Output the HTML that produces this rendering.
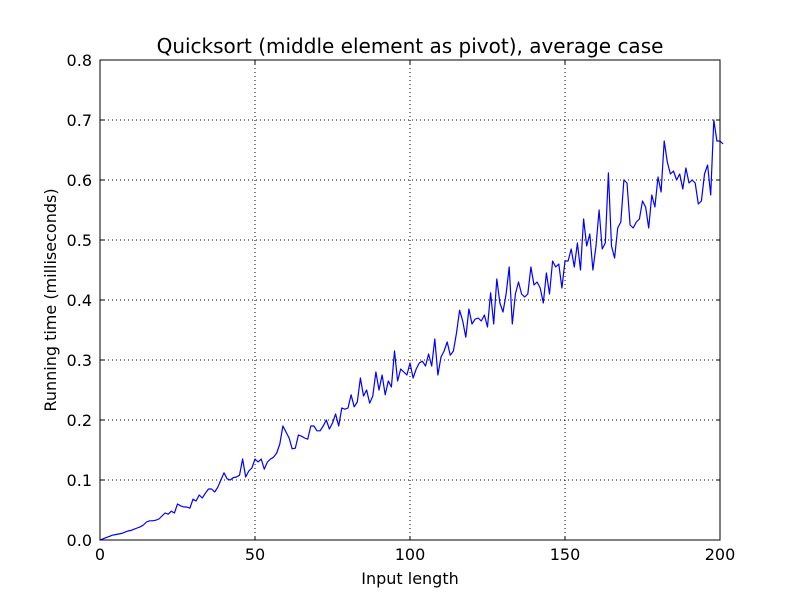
<!DOCTYPE html>
<html><head><meta charset="utf-8"><style>
html,body{margin:0;padding:0;background:#fff}
svg text{font-family:"DejaVu Sans","Liberation Sans",sans-serif;fill:#000}
</style></head><body>
<svg id="chart" width="800" height="600" xmlns="http://www.w3.org/2000/svg">
<rect width="800" height="600" fill="#fff"/>
<g id="grid"></g><g id="series"></g><g id="axes"></g>
</svg>
<script>
const xTicks=[0,50,100,150,200];
const yTicks=[0.0,0.1,0.2,0.3,0.4,0.5,0.6,0.7,0.8];
const yTickLabels=["0.0","0.1","0.2","0.3","0.4","0.5","0.6","0.7","0.8"];
const runningTimes=[0,.002,.004,.006,.008,.009,.01,.011,.013,.015,.016,
.018,.02,.022,.025,.03,.032,.032,.033,.035,.04,
.045,.043,.048,.045,.06,.057,.055,.055,.053,.068,
.065,.075,.07,.078,.085,.085,.08,.088,.1,.112,
.102,.1,.104,.105,.108,.135,.105,.115,.12,.135,
.13,.135,.118,.13,.135,.138,.145,.16,.19,.18,
.17,.152,.153,.175,.173,.17,.168,.19,.19,.182,
.182,.19,.2,.185,.195,.21,.19,.22,.218,.22,
.242,.222,.23,.27,.24,.25,.228,.24,.28,.25,
.275,.242,.265,.255,.315,.265,.285,.28,.275,.295,
.27,.285,.295,.298,.29,.31,.29,.335,.275,.305,
.315,.33,.308,.315,.345,.383,.365,.338,.385,.36,
.368,.37,.365,.375,.355,.412,.36,.435,.395,.38,
.41,.455,.36,.41,.43,.41,.405,.41,.455,.425,
.43,.42,.395,.445,.41,.465,.455,.46,.42,.465,
.465,.485,.455,.495,.45,.535,.49,.51,.45,.49,
.55,.485,.495,.612,.49,.47,.52,.53,.6,.595,
.525,.52,.53,.535,.565,.555,.52,.575,.555,.605,
.58,.665,.63,.61,.615,.6,.61,.585,.62,.595,
.6,.595,.56,.565,.61,.625,.575,.7,.665,.665,.66];
const L=100,R=720,T=60,B=540;
const xs=v=>L+(v-0)/(200-0)*(R-L);
const ys=v=>B-(v-0)/(0.8-0)*(B-T);
const NS="http://www.w3.org/2000/svg";
function mk(tag,attrs,parent,text){const e=document.createElementNS(NS,tag);for(const k in attrs)e.setAttribute(k,attrs[k]);if(text!==undefined)e.textContent=text;parent.appendChild(e);return e;}
const grid=document.getElementById('grid'),axes=document.getElementById('axes'),series=document.getElementById('series');
xTicks.forEach(t=>{const x=xs(t);
 const g=mk('line',{x1:x,x2:x,y1:T,y2:B,stroke:'#000','stroke-width':1,'stroke-dasharray':'1,3'},grid);
 
 
 mk('line',{x1:x,x2:x,y1:B,y2:B-4,stroke:'#000'},axes);
 mk('line',{x1:x,x2:x,y1:T,y2:T+4,stroke:'#000'},axes);
 const tx=mk('text',{x:x,y:B+20,'text-anchor':'middle','font-size':16},axes,String(t));
 
 
});
yTicks.forEach((t,i)=>{const y=ys(t);
 const g=mk('line',{x1:L,x2:R,y1:y,y2:y,stroke:'#000','stroke-width':1,'stroke-dasharray':'1,3'},grid);
 
 
 mk('line',{x1:L,x2:L+4,y1:y,y2:y,stroke:'#000'},axes);
 mk('line',{x1:R,x2:R-4,y1:y,y2:y,stroke:'#000'},axes);
 const tx=mk('text',{x:L-8,y:y+6,'text-anchor':'end','font-size':16},axes,yTickLabels[i]);
 
 
});
const fr=mk('rect',{x:L,y:T,width:R-L,height:B-T,fill:'none',stroke:'#000','stroke-width':1},axes);


const pts=runningTimes.map((v,i)=>xs(i).toFixed(2)+','+ys(v).toFixed(2)).join(' ');
const pl=mk('polyline',{points:pts,fill:'none',stroke:'#0000ff','stroke-width':1.2,'stroke-linejoin':'round'},series);


const ti=mk('text',{x:410,y:53,'text-anchor':'middle','font-size':20},axes,'Quicksort (middle element as pivot), average case');


const xl=mk('text',{x:410,y:584,'text-anchor':'middle','font-size':16},axes,'Input length');


const yl=mk('text',{x:56,y:300,'text-anchor':'middle','font-size':16,transform:'rotate(-90 56 300)'},axes,'Running time (milliseconds)');


</script>
</body></html>
